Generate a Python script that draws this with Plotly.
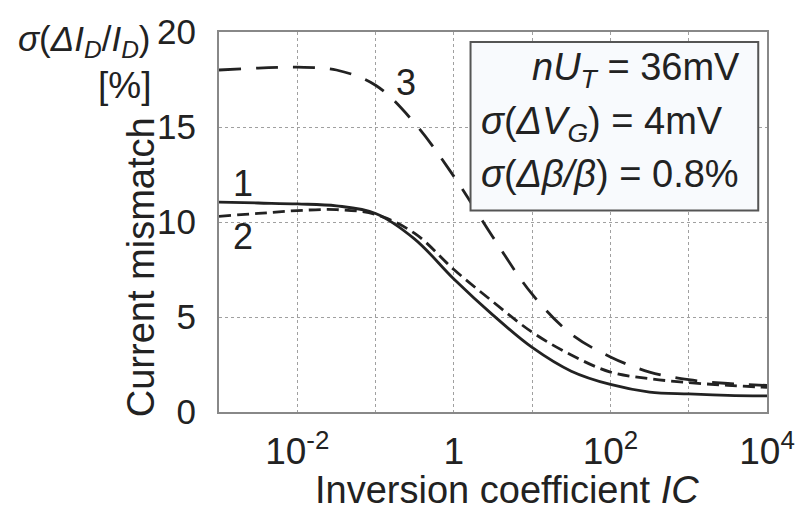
import plotly.graph_objects as go

# Inversion coefficient (half-decade steps)
ic = [1e-3, 3.162e-3, 1e-2, 3.162e-2, 1e-1, 3.162e-1, 1.0, 3.162, 10.0,
      31.62, 100.0, 316.2, 1000.0, 3162.0, 1e4]

# Current mismatch sigma(dI_D/I_D) in %
curve1 = [11.05, 11.0, 10.95, 10.85, 10.45, 9.1, 7.0, 5.1, 3.4, 2.15, 1.45, 1.05, 0.95, 0.88, 0.85]
curve2 = [10.3, 10.45, 10.6, 10.65, 10.4, 9.4, 7.5, 5.8, 4.2, 3.0, 2.1, 1.75, 1.55, 1.4, 1.3]
curve3 = [18.0, 18.1, 18.15, 18.0, 17.2, 15.2, 12.4, 9.2, 6.2, 4.1, 2.9, 2.1, 1.7, 1.5, 1.4]

x_grid = [1e-3, 1e-2, 1e-1, 1, 10, 100, 1000, 1e4]
x_text = ["", "10<sup>-2</sup>", "", "1", "", "10<sup>2</sup>", "", "10<sup>4</sup>"]
y_ticks = [0, 5, 10, 15, 20]

FONT = "Liberation Sans, Arial, sans-serif"
INK = "#222222"

fig = go.Figure()
fig.add_trace(go.Scatter(x=ic, y=curve3, mode="lines", line_shape="spline",
                         line=dict(color=INK, width=2.8, dash="22px,15px")))
fig.add_trace(go.Scatter(x=ic, y=curve2, mode="lines", line_shape="spline",
                         line=dict(color=INK, width=2.8, dash="12px,6px")))
fig.add_trace(go.Scatter(x=ic, y=curve1, mode="lines", line_shape="spline",
                         line=dict(color=INK, width=2.8)))

fig.update_layout(
    width=807, height=513,
    margin=dict(l=219, r=35, t=23, b=101),
    paper_bgcolor="white", plot_bgcolor="white",
    showlegend=False,
    font=dict(family=FONT, size=36, color=INK),
)
fig.update_xaxes(
    type="log", range=[-3, 4],
    tickvals=x_grid, ticktext=x_text,
    tickfont=dict(size=37),
    showgrid=True, gridcolor="#a0a0a0", gridwidth=1, griddash="dot",
    showline=True, linecolor="#888888", linewidth=2, mirror=True,
    ticks="", ticklabelstandoff=6, zeroline=False,
)
fig.update_yaxes(
    range=[0, 20], tickvals=y_ticks,
    tickfont=dict(size=35),
    showgrid=True, gridcolor="#a0a0a0", gridwidth=1, griddash="dot",
    showline=True, linecolor="#888888", linewidth=2, mirror=True,
    ticks="", ticklabelstandoff=14, zeroline=False,
)

# parameter box
fig.add_shape(type="rect", xref="paper", yref="paper",
              x0=0.459, x1=0.984, y0=0.53, y1=0.974,
              fillcolor="#f8fafd", line=dict(color="#555555", width=2))

ann = [
    dict(x=0.955, y=0.90, text="<i>nU<sub>T</sub></i> = 36mV", xanchor="right", size=38),
    dict(x=0.475, y=0.758, text="<i>σ</i>(<i>ΔV<sub>G</sub></i>) = 4mV", xanchor="left", size=38),
    dict(x=0.475, y=0.627, text="<i>σ</i>(<i>Δβ/β</i>) = 0.8%", xanchor="left", size=38),
    dict(x=0.0434, y=0.602, text="1", xanchor="center", size=36),
    dict(x=0.0434, y=0.463, text="2", xanchor="center", size=36),
    dict(x=0.342, y=0.866, text="3", xanchor="center", size=36),
    dict(x=-0.246, y=0.977, text="<i>σ</i>(<i>ΔI<sub>D</sub></i>/<i>I<sub>D</sub></i>)", xanchor="center", size=35),
    dict(x=-0.172, y=0.859, text="[%]", xanchor="center", size=37),
    dict(x=0.526, y=-0.205, text="Inversion coefficient <i>IC</i>", xanchor="center", size=38),
    dict(x=-0.143, y=0.38, text="Current mismatch", xanchor="center", size=38, textangle=-90),
]
for a in ann:
    fig.add_annotation(
        x=a["x"], y=a["y"], xref="paper", yref="paper", text=a["text"],
        xanchor=a["xanchor"], yanchor="middle", showarrow=False,
        textangle=a.get("textangle", 0),
        font=dict(family=FONT, size=a.get("size", 36), color=INK),
    )

fig.write_html("out.html")
